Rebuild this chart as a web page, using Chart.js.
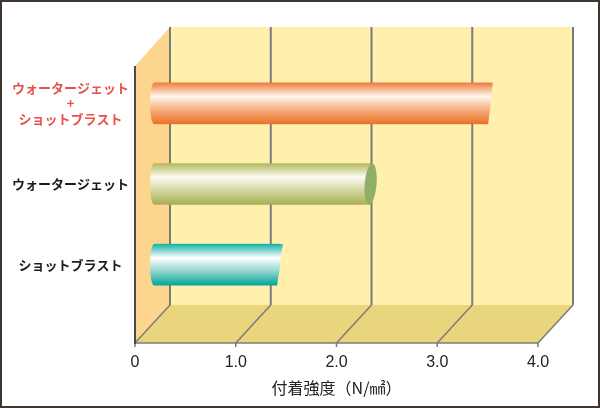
<!DOCTYPE html>
<html lang="ja">
  <head>
    <meta charset="UTF-8" />
    <title>付着強度</title>
    <script src="https://cdn.jsdelivr.net/npm/chart.js"></script>
    <style>
      html, body { margin: 0; padding: 0; background: #fff; }
      #wrap { width: 600px; height: 408px; position: relative; }
    </style>
  </head>
  <body>
    <div id="wrap"><canvas id="chart" width="600" height="408"></canvas></div>

    <script>
      // データ
      const categories = [["ウォータージェット", "+", "ショットブラスト"], "ウォータージェット", "ショットブラスト"];
      const strengths = [3.34, 2.15, 1.25];
      const xTicks = [0, 1, 2, 3, 4];
      const axisTitle = "付着強度（N/㎟）";

      // 見た目
      const labelColors = ["#e8504a", "#1a1a1a", "#1a1a1a"];
      const barStops = [
        [[0, "#ef7e3c"], [0.33, "#fff8f0"], [0.6, "#f7bb8f"], [1, "#ec7029"]],
        [[0, "#b3b95e"], [0.33, "#fbfbf2"], [0.65, "#d4d7a2"], [1, "#a6b052"]],
        [[0, "#16b2a7"], [0.33, "#ffffff"], [0.65, "#94d6d0"], [1, "#03a69a"]],
      ];
      const capColors = [null, "#8fae68", null]; // 楕円の端
      const slants = [2.5, 0, 3];                 // 斜めの端
      const BAR_H = 41;
      const DEPTH_X = 35, DEPTH_Y = 38; // 奥行き
      const BAR_DX = 19; // 棒の奥行き位置

      function barGradient(ctx, i, cy) {
        const g = ctx.createLinearGradient(0, cy - BAR_H / 2, 0, cy + BAR_H / 2);
        barStops[i].forEach(([p, c]) => g.addColorStop(p, c));
        return g;
      }

      const box3d = {
        id: "box3d",
        beforeDatasetsDraw(chart) {
          const { ctx, chartArea } = chart;
          const xs = chart.scales.x;
          const fx = (v) => xs.getPixelForValue(v);
          const bb = chartArea.bottom, fb = bb + DEPTH_Y;
          const bt = chartArea.top - 36, ft = bt + 39;
          const x0 = fx(0), x4 = fx(4);
          ctx.save();
          // 奥の壁
          ctx.fillStyle = "#fff0ae";
          ctx.fillRect(x0 + DEPTH_X, bt, x4 - x0, bb - bt);
          // 左の壁
          ctx.fillStyle = "#fcd68f";
          ctx.beginPath();
          ctx.moveTo(x0, ft); ctx.lineTo(x0 + DEPTH_X, bt);
          ctx.lineTo(x0 + DEPTH_X, bb); ctx.lineTo(x0, fb);
          ctx.closePath(); ctx.fill();
          // 床
          ctx.fillStyle = "#e9d67c";
          ctx.beginPath();
          ctx.moveTo(x0, fb); ctx.lineTo(x4, fb);
          ctx.lineTo(x4 + DEPTH_X, bb); ctx.lineTo(x0 + DEPTH_X, bb);
          ctx.closePath(); ctx.fill();
          // グリッド
          ctx.strokeStyle = "#7b7b7b";
          xTicks.forEach((v) => {
            const x = fx(v);
            ctx.lineWidth = 2;
            ctx.beginPath();
            ctx.moveTo(x + DEPTH_X, bt); ctx.lineTo(x + DEPTH_X, bb);
            ctx.stroke();
            ctx.lineWidth = 1.5;
            ctx.beginPath();
            ctx.moveTo(x, fb); ctx.lineTo(x + DEPTH_X, bb);
            ctx.stroke();
            ctx.beginPath();
            ctx.moveTo(x, fb); ctx.lineTo(x, fb + 4);
            ctx.stroke();
          });
          ctx.lineWidth = 1.5;
          ctx.beginPath();
          ctx.moveTo(x0, fb); ctx.lineTo(x4, fb);
          ctx.stroke();
          ctx.strokeStyle = "#4a4a4a";
          ctx.lineWidth = 2;
          ctx.beginPath();
          ctx.moveTo(x0, ft); ctx.lineTo(x0, fb + 1);
          ctx.stroke();
          ctx.restore();

          // 棒を奥へずらし、斜めの端で切る
          ctx.save();
          ctx.translate(BAR_DX, 0);
          ctx.beginPath();
          chart.getDatasetMeta(0).data.forEach((bar, i) => {
            const top = bar.y - BAR_H / 2 - 1, bot = bar.y + BAR_H / 2 + 1;
            const s = slants[i];
            ctx.moveTo(bar.base - 10, top);
            ctx.lineTo(bar.x + s + 1, top);
            ctx.lineTo(bar.x - s, bot);
            ctx.lineTo(bar.base - 10, bot);
            ctx.closePath();
          });
          ctx.clip();
        },
        afterDatasetsDraw(chart) {
          const { ctx } = chart;
          ctx.restore();
          ctx.save();
          ctx.translate(BAR_DX, 0);
          chart.getDatasetMeta(0).data.forEach((bar, i) => {
            const g = barGradient(ctx, i, bar.y);
            const top = bar.y - BAR_H / 2, bot = bar.y + BAR_H / 2;
            ctx.fillStyle = g;
            // 左端の丸み
            ctx.beginPath();
            ctx.ellipse(bar.base, bar.y, 4, BAR_H / 2, 0, Math.PI / 2, Math.PI * 1.5);
            ctx.fill();
            // 斜めの端の上側
            const s = slants[i];
            if (s) {
              ctx.beginPath();
              ctx.moveTo(bar.x - 0.5, top);
              ctx.lineTo(bar.x + s, top);
              ctx.lineTo(bar.x - 0.5, bar.y);
              ctx.closePath();
              ctx.fill();
            }
            if (capColors[i]) {
              ctx.fillStyle = capColors[i];
              ctx.beginPath();
              ctx.ellipse(bar.x, bar.y, 6, BAR_H / 2, 0.08, 0, Math.PI * 2);
              ctx.fill();
            }
          });
          ctx.restore();
        },
        afterDraw(chart) {
          const { ctx } = chart;
          ctx.save();
          ctx.strokeStyle = "#3f3634";
          ctx.lineWidth = 2;
          ctx.strokeRect(1, 1, chart.width - 2, chart.height - 2);
          ctx.restore();
        },
      };

      new Chart(document.getElementById("chart"), {
        type: "bar",
        data: {
          labels: categories,
          datasets: [
            {
              data: strengths,
              barThickness: BAR_H,
              borderWidth: 0,
              backgroundColor: (c) => {
                const chart = c.chart;
                if (!chart.chartArea || !chart.scales.y) return barStops[c.dataIndex][0][1];
                return barGradient(chart.ctx, c.dataIndex, chart.scales.y.getPixelForValue(c.dataIndex));
              },
              clip: false,
            },
          ],
        },
        plugins: [box3d],
        options: {
          indexAxis: "y",
          responsive: false,
          animation: false,
          layout: { padding: { top: 63, right: 62, left: 0, bottom: 0 } },
          plugins: { legend: { display: false }, tooltip: { enabled: false } },
          scales: {
            x: {
              min: 0,
              max: 4,
              afterFit: (s) => { s.height = 103; },
              afterBuildTicks: (s) => { s.ticks = xTicks.map((v) => ({ value: v })); },
              grid: { display: false, drawTicks: false },
              border: { display: false },
              ticks: {
                padding: 48,
                color: "#222",
                font: { family: "'Liberation Sans', Arial, sans-serif", size: 16 },
                callback: (v) => (v === 0 ? "0" : v.toFixed(1)),
              },
              title: {
                display: true,
                text: axisTitle,
                color: "#222",
                font: { family: "'Noto Sans CJK JP', sans-serif", size: 16 },
                padding: { top: 0, bottom: 10 },
              },
            },
            y: {
              afterFit: (s) => { s.width = 135; },
              grid: { display: false, drawTicks: false },
              border: { display: false },
              ticks: {
                crossAlign: "center",
                padding: 6,
                color: (c) => labelColors[c.index],
                font: { family: "'Noto Sans CJK JP', sans-serif", size: 13, weight: "bold", lineHeight: 1.2 },
              },
            },
          },
        },
      });
    </script>
  </body>
</html>
